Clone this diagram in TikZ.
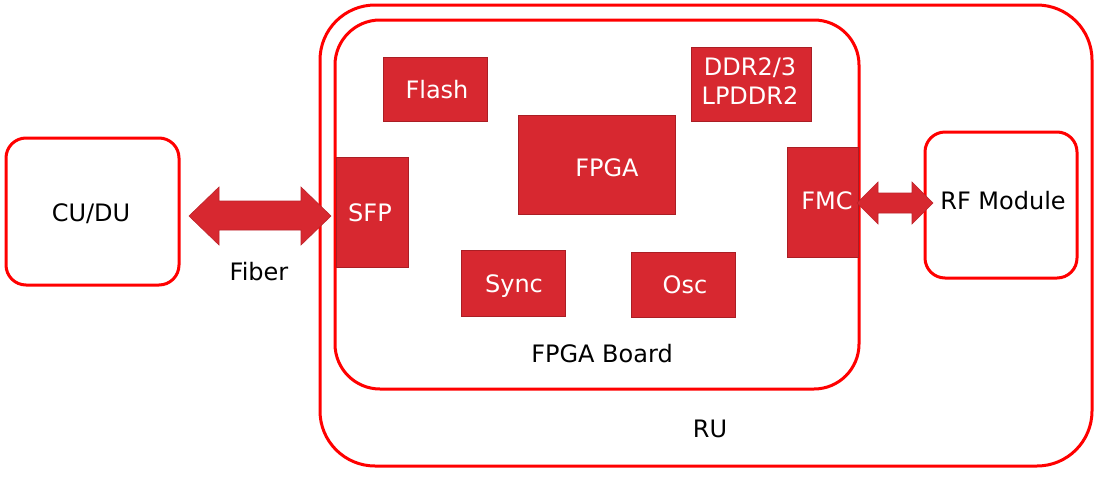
\documentclass[tikz,border=0pt]{standalone}
\usepackage{fontspec}
\setmainfont{DejaVu Sans}
\begin{document}
\begin{tikzpicture}[x=1pt,y=-1pt,
  outline/.style={draw={rgb,255:red,255;green,0;blue,0},line width=3pt,fill=white},
  blk/.style={draw={rgb,255:red,170;green,30;blue,36},line width=0.8pt,fill={rgb,255:red,215;green,40;blue,48},inner sep=0pt},
  wtxt/.style={text=white,inner sep=0pt,anchor=base,font=\fontsize{24}{30}\selectfont},
  lbl/.style={font=\fontsize{24}{30}\selectfont,text=black,inner sep=0pt,anchor=base},
  barrow/.style={fill={rgb,255:red,215;green,40;blue,48},draw={rgb,255:red,190;green,35;blue,42},line width=0.6pt}]
\useasboundingbox (0,0) rectangle (1105,480);
% outer containers
\draw[outline,rounded corners=55pt] (320,5) rectangle (1092,466);
\draw[outline,rounded corners=45pt] (335,20) rectangle (859,389);
\draw[outline,rounded corners=20pt] (6,138) rectangle (179,285);
\draw[outline,rounded corners=20pt] (925,132) rectangle (1077,278);
\node[lbl] (cudu) at (91,221) {CU/DU};
\node[lbl] (rfm) at (1003,209) {RF Module};
\node[lbl] (rul) at (710,437) {RU};
\node[lbl] (fbl) at (602,362) {FPGA Board};
\node[lbl] (fib) at (259,280) {Fiber};
% blocks
\node[blk,minimum width=104pt,minimum height=64pt] (flash) at (435,89) {};
\node[blk,minimum width=120pt,minimum height=74pt] (ddr) at (751,84) {};
\node[blk,minimum width=157pt,minimum height=99pt] (fpga) at (596.5,164.5) {};
\node[blk,minimum width=72pt,minimum height=110pt] (sfp) at (372,212) {};
\node[blk,minimum width=71pt,minimum height=110pt] (fmc) at (823,202) {};
\node[blk,minimum width=104pt,minimum height=66pt] (sync) at (513,283) {};
\node[blk,minimum width=104pt,minimum height=65pt] (osc) at (683,284.5) {};
\node[wtxt] (flasht) at (437,98) {Flash};
\node[wtxt] (ddrt1) at (750,75) {DDR2/3};
\node[wtxt] (ddrt2) at (750,104) {LPDDR2};
\node[wtxt] (fpgat) at (607,176) {FPGA};
\node[wtxt] (sfpt) at (370,221) {SFP};
\node[wtxt] (fmct) at (827,209) {FMC};
\node[wtxt] (synct) at (514,292) {Sync};
\node[wtxt] (osct) at (685,293) {Osc};
% fiber double arrow
\coordinate (fa) at (189,216);
\coordinate (fb) at (331,216);
\draw[barrow] (fa) -- (219,187) -- (219,201) -- (301,201) -- (301,187) -- (fb)
  -- (301,245) -- (301,230) -- (219,230) -- (219,245) -- cycle;
% FMC double arrow
\coordinate (ma) at (857,203);
\coordinate (mb) at (933,203);
\draw[barrow] (ma) -- (878,182) -- (878,193) -- (912,193) -- (912,182) -- (mb)
  -- (912,224) -- (912,213) -- (878,213) -- (878,224) -- cycle;
\end{tikzpicture}
\end{document}
